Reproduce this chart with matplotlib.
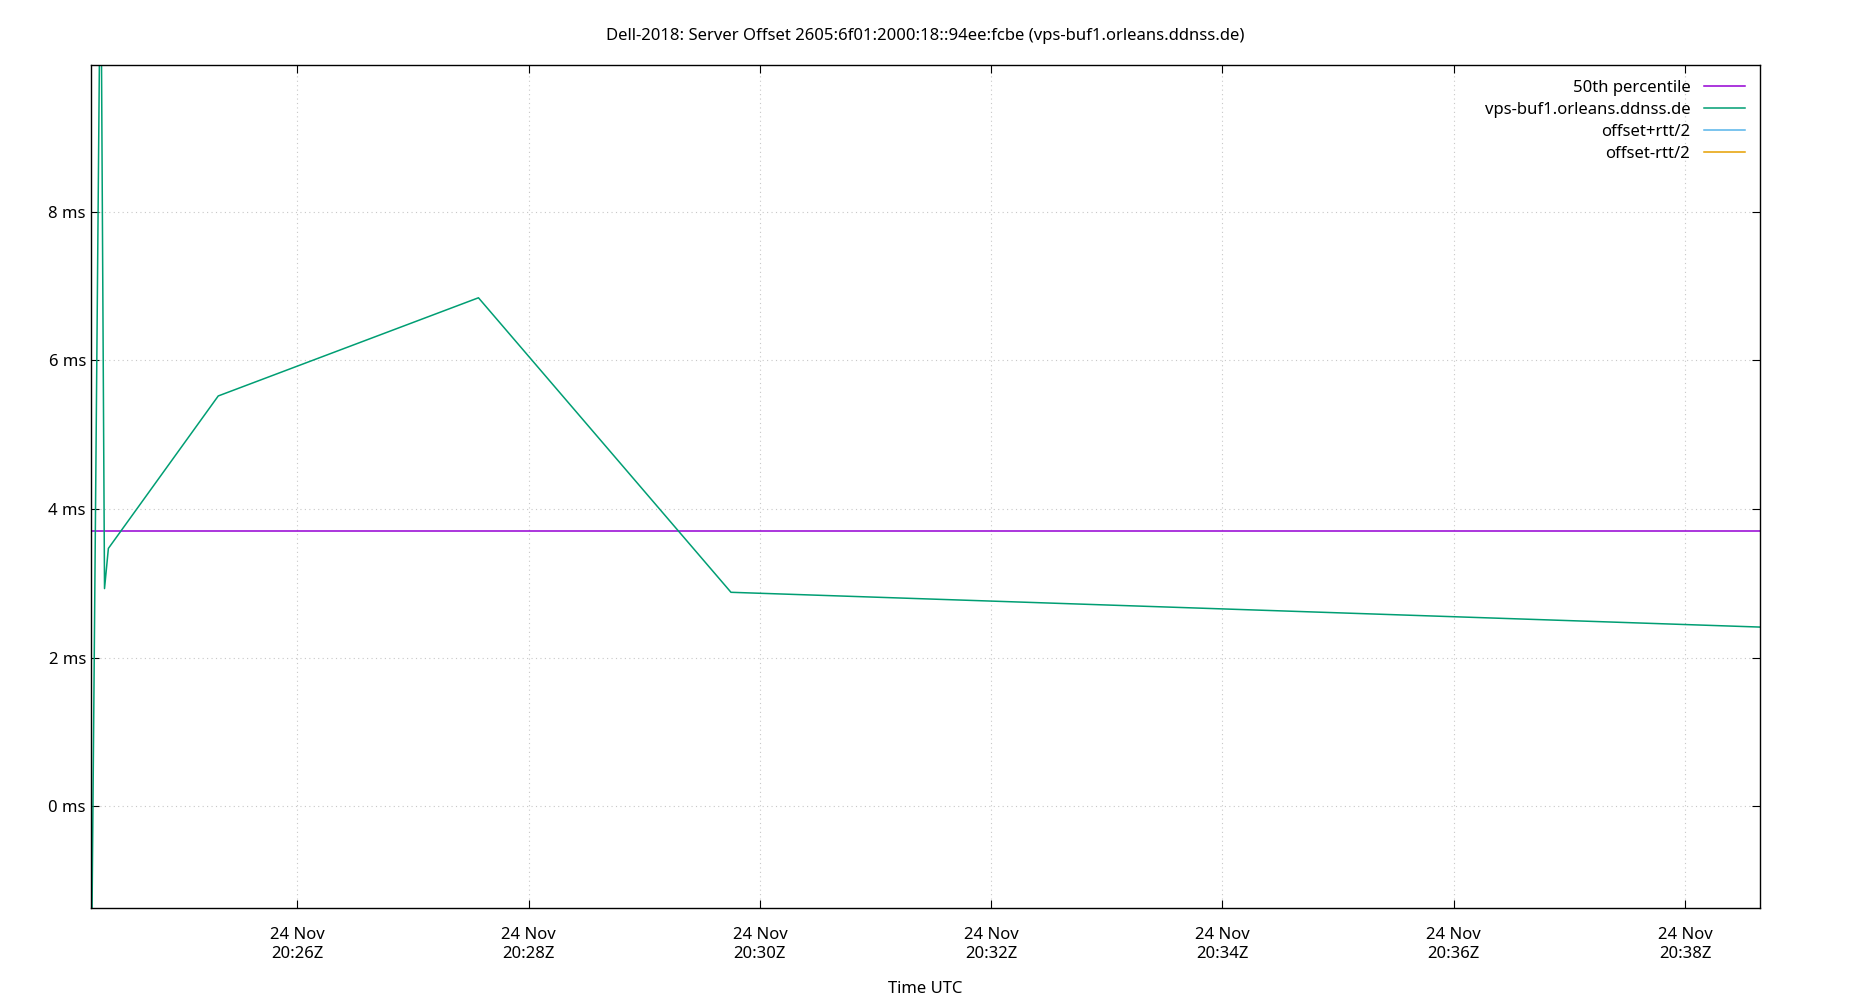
import matplotlib
matplotlib.use("Agg")
import matplotlib.pyplot as plt
import matplotlib.dates as mdates
import numpy as np
from datetime import datetime, timedelta

plt.rcParams['font.family'] = ['Noto Sans', 'DejaVu Sans']

t0 = datetime(2018, 11, 24, 20, 24, 13)
offset_s = [0, 5, 7, 9, 66, 201, 332, 880]
offset_ms = [-3.0, 12.0, 2.93, 3.47, 5.52, 6.84, 2.88, 2.40]
median_ms = 3.70
times = [t0 + timedelta(seconds=s) for s in offset_s]
xmin = datetime(2018, 11, 24, 20, 24, 12, 900000)
xmax = datetime(2018, 11, 24, 20, 38, 39)

fig = plt.figure(figsize=(18.5, 10), dpi=100)
ax = fig.add_axes([0.0491, 0.092, 0.9024, 0.843])
ax.plot([xmin, xmax], [median_ms, median_ms], color='#9400d3', lw=1.1, label='50th percentile')
ax.plot(times, offset_ms, color='#009e73', lw=1.1, label='vps-buf1.orleans.ddnss.de')
ax.plot([], [], color='#56b4e9', lw=1.1, label='offset+rtt/2')
ax.plot([], [], color='#e69f00', lw=1.1, label='offset-rtt/2')
ax.set_xlim(xmin, xmax)
ax.set_ylim(-1.365, 9.97)
ax.set_yticks([0, 2, 4, 6, 8])
ax.set_yticklabels([f'{v} ms' for v in [0, 2, 4, 6, 8]])
ax.xaxis.set_major_locator(mdates.MinuteLocator(byminute=range(0, 60, 2)))
ax.xaxis.set_major_formatter(mdates.DateFormatter('%d %b\n%H:%MZ'))
ax.grid(True, color='#c8c8c8', linestyle=(0, (1, 3)), lw=0.8)
ax.tick_params(direction='in', length=6, labelsize=12, top=True, right=True, labeltop=False, labelright=False)
ax.tick_params(axis='x', pad=14)
for s in ax.spines.values():
    s.set_linewidth(1.0)
ax.set_xlabel('Time UTC', fontsize=12, labelpad=14)
ax.set_title('Dell-2018: Server Offset 2605:6f01:2000:18::94ee:fcbe (vps-buf1.orleans.ddnss.de)', fontsize=12, pad=18)
ax.legend(loc='upper right', frameon=False, markerfirst=False, fontsize=12, handlelength=2.5, labelspacing=0.35)
fig.savefig('out.png', dpi=100)
